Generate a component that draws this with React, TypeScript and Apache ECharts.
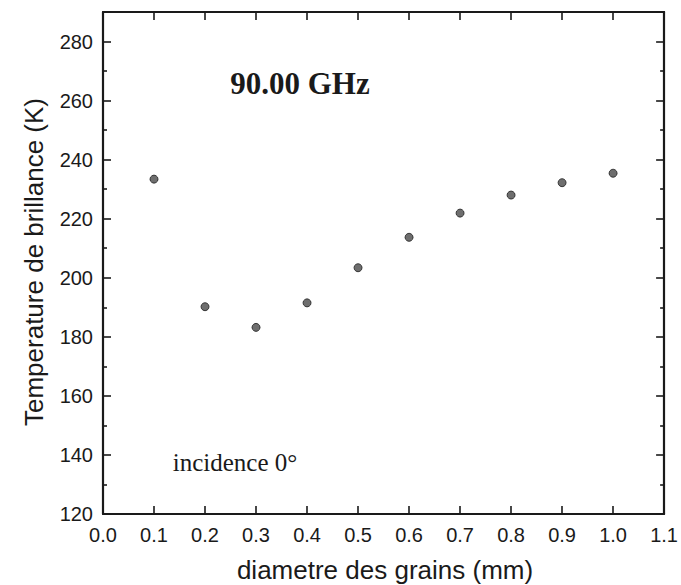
import React, { useEffect, useRef } from "react";
import * as echarts from "echarts";

const diameters = [0.1, 0.2, 0.3, 0.4, 0.5, 0.6, 0.7, 0.8, 0.9, 1.0];
const temperatures = [233.4, 190.2, 183.2, 191.5, 203.4, 213.7, 221.9, 228.0, 232.2, 235.4];
const xTitle = "diametre des grains (mm)";
const yTitle = "Temperature de brillance (K)";
const freqLabel = "90.00 GHz";
const incidenceLabel = "incidence 0°";

const INK = "#1a1a1a";
const SANS = "'Liberation Sans', Arial, Helvetica, sans-serif";
const SERIF = "'Liberation Serif', 'Times New Roman', serif";

export default function App() {
  const ref = useRef<HTMLDivElement>(null);
  useEffect(() => {
    document.body.style.margin = "0";
    if (!ref.current) return;
    const chart = echarts.init(ref.current, null, { renderer: "svg" });
    const lineStyle = { color: INK, width: 2.2 };
    const tickStyle = { color: INK, width: 1.6 };
    chart.setOption({
      animation: false,
      backgroundColor: "#ffffff",
      grid: { left: 103, right: 16, top: 12, bottom: 71 },
      xAxis: [
        {
          type: "value",
          position: "bottom",
          min: 0,
          max: 1.1,
          interval: 0.1,
          axisLine: { show: true, onZero: false, lineStyle },
          axisTick: { show: true, inside: true, length: 8, lineStyle: tickStyle },
          axisLabel: {
            color: INK,
            fontFamily: SANS,
            fontSize: 20,
            margin: 11,
            formatter: (v: number) => v.toFixed(1),
          },
          splitLine: { show: false },
        },
        {
          type: "value",
          position: "top",
          min: 0,
          max: 1.1,
          interval: 0.1,
          axisLine: { show: true, onZero: false, lineStyle },
          axisTick: { show: true, inside: true, length: 8, lineStyle: tickStyle },
          axisLabel: { show: false },
          splitLine: { show: false },
        },
      ],
      yAxis: [
        {
          type: "value",
          position: "left",
          min: 120,
          max: 290,
          interval: 20,
          axisLine: { show: true, onZero: false, lineStyle },
          axisTick: { show: true, inside: true, length: 8, lineStyle: tickStyle },
          minorTick: { show: true, splitNumber: 2, length: 4, lineStyle: tickStyle },
          axisLabel: {
            color: INK,
            fontFamily: SANS,
            fontSize: 20,
            margin: 10,
            showMaxLabel: false,
            formatter: (v: number) => (v % 20 === 0 ? String(v) : ""),
          },
          splitLine: { show: false },
          minorSplitLine: { show: false },
        },
        {
          type: "value",
          position: "right",
          min: 120,
          max: 290,
          interval: 20,
          axisLine: { show: true, onZero: false, lineStyle },
          axisTick: { show: true, inside: true, length: 8, lineStyle: tickStyle },
          minorTick: { show: true, splitNumber: 2, length: 4, lineStyle: tickStyle },
          axisLabel: { show: false },
          splitLine: { show: false },
          minorSplitLine: { show: false },
        },
      ],
      series: [
        {
          type: "scatter",
          xAxisIndex: 0,
          yAxisIndex: 0,
          symbol: "circle",
          symbolSize: 8,
          itemStyle: { color: "#4a4a4a", borderColor: "#1e1e1e", borderWidth: 1 },
          data: diameters.map((d, i) => [d, temperatures[i]]),
        },
      ],
      graphic: [
        {
          type: "text",
          x: 34,
          y: 262,
          rotation: Math.PI / 2,
          style: {
            text: yTitle,
            fill: INK,
            font: `26px ${SANS}`,
            align: "center",
            verticalAlign: "middle",
          },
        },
        {
          type: "text",
          x: 385,
          y: 570,
          style: {
            text: xTitle,
            fill: INK,
            font: `26px ${SANS}`,
            align: "center",
            verticalAlign: "middle",
          },
        },
        {
          type: "text",
          x: 300,
          y: 83,
          style: {
            text: freqLabel,
            fill: INK,
            font: `bold 31px ${SERIF}`,
            align: "center",
            verticalAlign: "middle",
          },
        },
        {
          type: "text",
          x: 235,
          y: 462,
          style: {
            text: incidenceLabel,
            fill: INK,
            font: `25px ${SERIF}`,
            align: "center",
            verticalAlign: "middle",
          },
        },
      ],
    });
    return () => chart.dispose();
  }, []);
  return <div ref={ref} style={{ width: 681, height: 585 }} />;
}
